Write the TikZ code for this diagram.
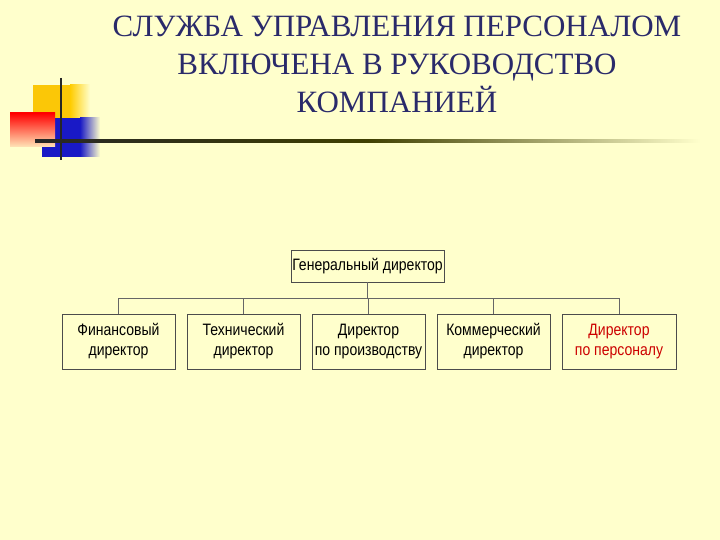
\documentclass[tikz,border=0pt]{standalone}
\usepackage{fontspec}
\setmainfont{Liberation Serif}
\newfontfamily\narrow[FakeStretch=0.85]{Liberation Sans}
\usetikzlibrary{fadings}
\definecolor{bg}{HTML}{FFFFCC}
\definecolor{navy}{HTML}{2A2A6A}
\definecolor{ttl}{HTML}{CC0000}
\tikzset{box/.style={draw=black!70,fill=bg,minimum height=#1,inner sep=0pt,font=\narrow\fontsize{16.5}{20}\selectfont,align=center},
  lnk/.style={draw=black!60,line width=0.8pt}}
\begin{document}
\begin{tikzpicture}[x=1pt,y=-1pt]
\fill[bg] (0,0) rectangle (720,540);
\useasboundingbox (0,0) rectangle (720,540);
% logo
\fill[yellow!60!orange] (33,85) rectangle (80,118);
\shade[left color=yellow!60!orange,right color=bg] (70,85) rectangle (90,118);
\fill[blue!75!black!90] (42,118) rectangle (80,157);
\shade[left color=blue!75!black!90,right color=bg] (80,118) rectangle (100,157);
\shade[shading=axis,shading angle=45,top color=red,bottom color=red!10!bg] (10,113) rectangle (55,147);
\draw[line width=2.5pt,black!85] (61,78) -- (61,160);
\shade[left color=black!85,right color=bg,middle color=black!50!olive] (35,139.5) rectangle (700,142.5);
% title
\node[navy,font=\fontsize{31}{38}\selectfont,align=center] (title) at (397,64) {СЛУЖБА УПРАВЛЕНИЯ ПЕРСОНАЛОМ\\ВКЛЮЧЕНА В РУКОВОДСТВО\\КОМПАНИЕЙ};
% chart
\node[box=32pt,minimum width=153pt] (g) at (367.5,266) {Генеральный директор};
\node[box=55pt,minimum width=113pt] (a) at (118.5,341.5) {Финансовый\\директор};
\node[box=55pt,minimum width=113pt] (b) at (243.5,341.5) {Технический\\директор};
\node[box=55pt,minimum width=113pt] (c) at (368.5,341.5) {Директор\\по производству};
\node[box=55pt,minimum width=113pt] (d) at (493.5,341.5) {Коммерческий\\директор};
\node[box=55pt,minimum width=114pt,text=ttl] (e) at (619,341.5) {Директор\\по персоналу};
\coordinate (bus) at (0,298);
\draw[lnk] (g.south) -- (g.south |- bus);
\draw[lnk] (a.north |- bus) -- (e.north |- bus);
\foreach \n in {a,b,c,d,e} \draw[lnk] (\n.north |- bus) -- (\n.north);
\end{tikzpicture}
\end{document}
